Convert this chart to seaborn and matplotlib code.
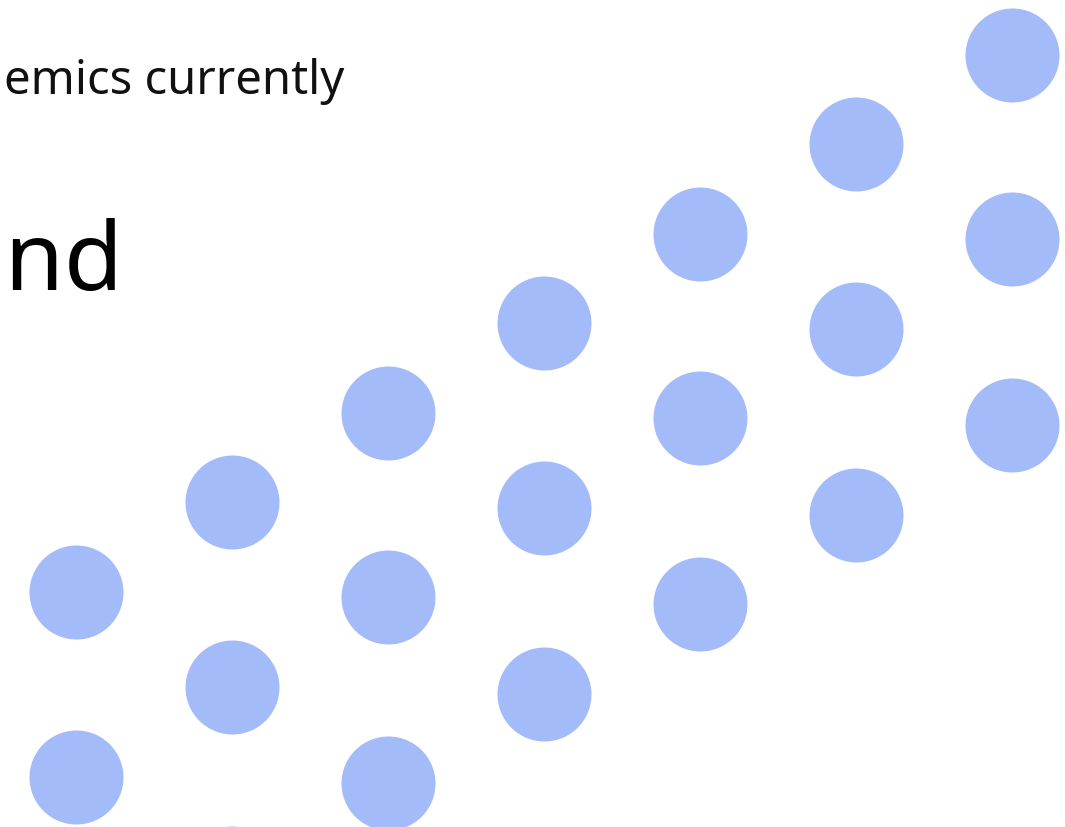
import numpy as np
import pandas as pd
import matplotlib
matplotlib.use("Agg")
import matplotlib.pyplot as plt
import seaborn as sns

# dot grid, in pixel coords of the 1065x827 slide (y grows downward)
dot_x = [76, 76,
         232, 232, 232,
         388, 388, 388,
         544, 544, 544,
         700, 700, 700,
         856, 856, 856,
         1012, 1012, 1012]
dot_y = [592, 777,
         502, 687, 873,
         413, 597, 783,
         323, 508, 694,
         234, 418, 604,
         144, 329, 515,
         55, 239, 425]

line_small = "emics currently"
line_big = "and"

DOT_COLOR = "#a3bbf9"
W, H, DPI = 1065, 827, 100

sns.set_style("white")
plt.rcParams["font.family"] = ["Noto Sans", "DejaVu Sans"]

df = pd.DataFrame({"x": dot_x, "y": dot_y})

fig = plt.figure(figsize=(W / DPI, H / DPI), dpi=DPI)
ax = fig.add_axes([0, 0, 1, 1])

# marker size in pt^2 for a 47 px radius
r_pt = 47 * 72 / DPI
sns.scatterplot(data=df, x="x", y="y", ax=ax, s=(2 * r_pt) ** 2,
                color=DOT_COLOR, linewidth=0, legend=False)

# slide text runs off the left edge, as in the source crop
ax.text(344, 94, line_small, ha="right", va="baseline", fontsize=34, color="#111111")
ax.text(123, 290, line_big, ha="right", va="baseline", fontsize=69, color="#000000")

ax.set_xlim(0, W)
ax.set_ylim(H, 0)
ax.set_axis_off()

fig.savefig("out.png", dpi=DPI)
